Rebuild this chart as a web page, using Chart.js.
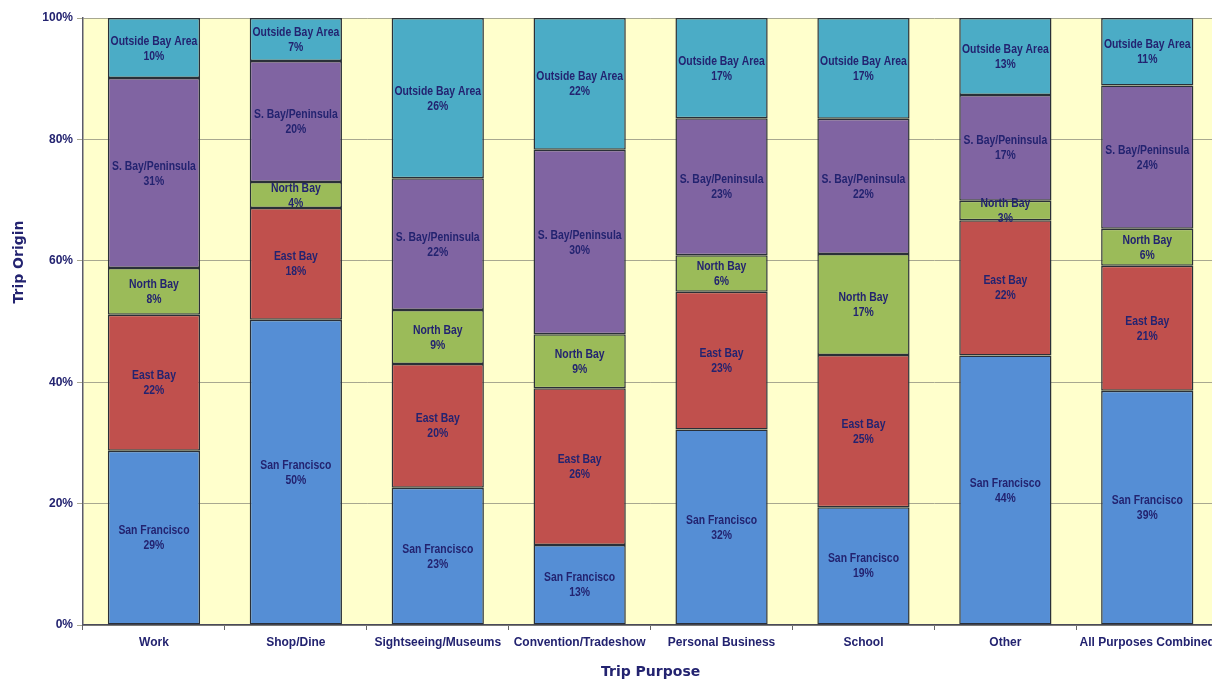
<!DOCTYPE html>
<html>
<head>
<meta charset="utf-8">
<script src="https://cdn.jsdelivr.net/npm/chart.js@4/dist/chart.umd.min.js"></script>
<style>
html,body{margin:0;padding:0;background:#fff;overflow:hidden;}
#wrap{position:relative;width:1220px;height:681px;}
</style>
</head>
<body>
<div id="wrap"><canvas id="c" width="1220" height="681"></canvas></div>
<script>
const categories = ["Work","Shop/Dine","Sightseeing/Museums","Convention/Tradeshow","Personal Business","School","Other","All Purposes Combined"];
const seriesNames = ["San Francisco","East Bay","North Bay","S. Bay/Peninsula","Outside Bay Area"];
const sanFrancisco   = [28.7, 50.3, 22.6, 13.2, 32.2, 19.4, 44.4, 38.6];
const eastBay        = [22.4, 18.4, 20.4, 25.8, 22.7, 25.1, 22.3, 20.6];
const northBay       = [ 7.7,  4.3,  8.9,  8.9,  6.0, 16.6,  3.2,  6.1];
const southBay       = [31.3, 19.9, 21.7, 30.4, 22.6, 22.3, 17.4, 23.6];
const outsideBayArea = [ 9.9,  7.1, 26.4, 21.7, 16.5, 16.6, 12.7, 11.1];
const yTicks = [0, 20, 40, 60, 80, 100];
const colors = ["#558ED5","#C0504D","#9BBB59","#8064A2","#4BACC6"];
const yTitle = "Trip Origin";

const TEXT = "#232370";
const labelFont = 'bold 13px "Liberation Sans", Arial, sans-serif';

const bgPlugin = {
  id: 'plotBg',
  beforeDraw(chart) {
    const {ctx, chartArea:a} = chart;
    ctx.save();
    ctx.fillStyle = '#FFFFCC';
    ctx.fillRect(a.left, a.top, a.right - a.left, a.bottom - a.top);
    ctx.restore();
  }
};

const labelPlugin = {
  id: 'segLabels',
  afterDatasetsDraw(chart) {
    const ctx = chart.ctx;
    chart.data.datasets.forEach((ds, i) => {
      const meta = chart.getDatasetMeta(i);
      meta.data.forEach((bar, j) => {
        const p = bar.getProps(['x','y','base'], true);
        const cy = (p.y + p.base) / 2;
        ctx.save();
        ctx.font = labelFont;
        ctx.fillStyle = TEXT;
        ctx.textAlign = 'center';
        ctx.textBaseline = 'middle';
        ctx.translate(p.x, cy);
        ctx.scale(0.8, 1);
        ctx.fillText(ds.label, 0, -7);
        ctx.fillText(Math.round(ds.data[j]) + '%', 0, 8);
        ctx.restore();
      });
    });
  }
};

const yTitlePlugin = {
  id: 'yTitle',
  afterDraw(chart) {
    const ctx = chart.ctx;
    ctx.save();
    ctx.font = 'bold 14px "DejaVu Sans", sans-serif';
    ctx.fillStyle = TEXT;
    ctx.textAlign = 'center';
    ctx.textBaseline = 'middle';
    ctx.translate(19, 262);
    ctx.rotate(-Math.PI / 2);
    ctx.fillText(yTitle, 0, 0);
    ctx.restore();
  }
};

const seriesData = [sanFrancisco, eastBay, northBay, southBay, outsideBayArea];

new Chart(document.getElementById('c'), {
  type: 'bar',
  data: {
    labels: categories,
    datasets: seriesNames.map((n, i) => ({
      label: n,
      data: seriesData[i],
      backgroundColor: colors[i],
      borderColor: '#2a3038',
      borderWidth: 1.5,
      borderSkipped: false,
      barPercentage: 0.65,
      categoryPercentage: 1.0
    }))
  },
  options: {
    responsive: false,
    animation: false,
    devicePixelRatio: 1,
    layout: { padding: { top: 18, right: 1, left: 0, bottom: 0 } },
    plugins: { legend: { display: false }, tooltip: { enabled: false } },
    scales: {
      x: {
        stacked: true,
        grid: { drawOnChartArea: false, drawTicks: true, tickLength: 5, color: '#666', offset: true },
        border: { color: '#4a4a5a', width: 1.5 },
        ticks: { color: TEXT, font: { family: '"Liberation Sans", Arial, sans-serif', size: 12, weight: 'bold' }, padding: 5, maxRotation: 0, autoSkip: false },
        title: { display: true, text: 'Trip Purpose', color: TEXT, font: { family: '"DejaVu Sans", sans-serif', size: 14, weight: 'bold' }, padding: { top: 16, bottom: 0 } },
        afterFit(s) { s.height = 56; }
      },
      y: {
        stacked: true,
        min: 0, max: 100,
        afterBuildTicks(s) { s.ticks = yTicks.map(v => ({ value: v })); },
        grid: { color: '#a8a890', lineWidth: 1, tickLength: 6, drawTicks: true },
        border: { color: '#5a5a6a', width: 1.5 },
        ticks: { color: TEXT, font: { family: '"Liberation Sans", Arial, sans-serif', size: 12, weight: 'bold' }, padding: 4, callback: v => v + '%' },
        title: { display: false },
        afterFit(s) { s.width = 83; }
      }
    }
  },
  plugins: [bgPlugin, labelPlugin, yTitlePlugin]
});
</script>
</body>
</html>
